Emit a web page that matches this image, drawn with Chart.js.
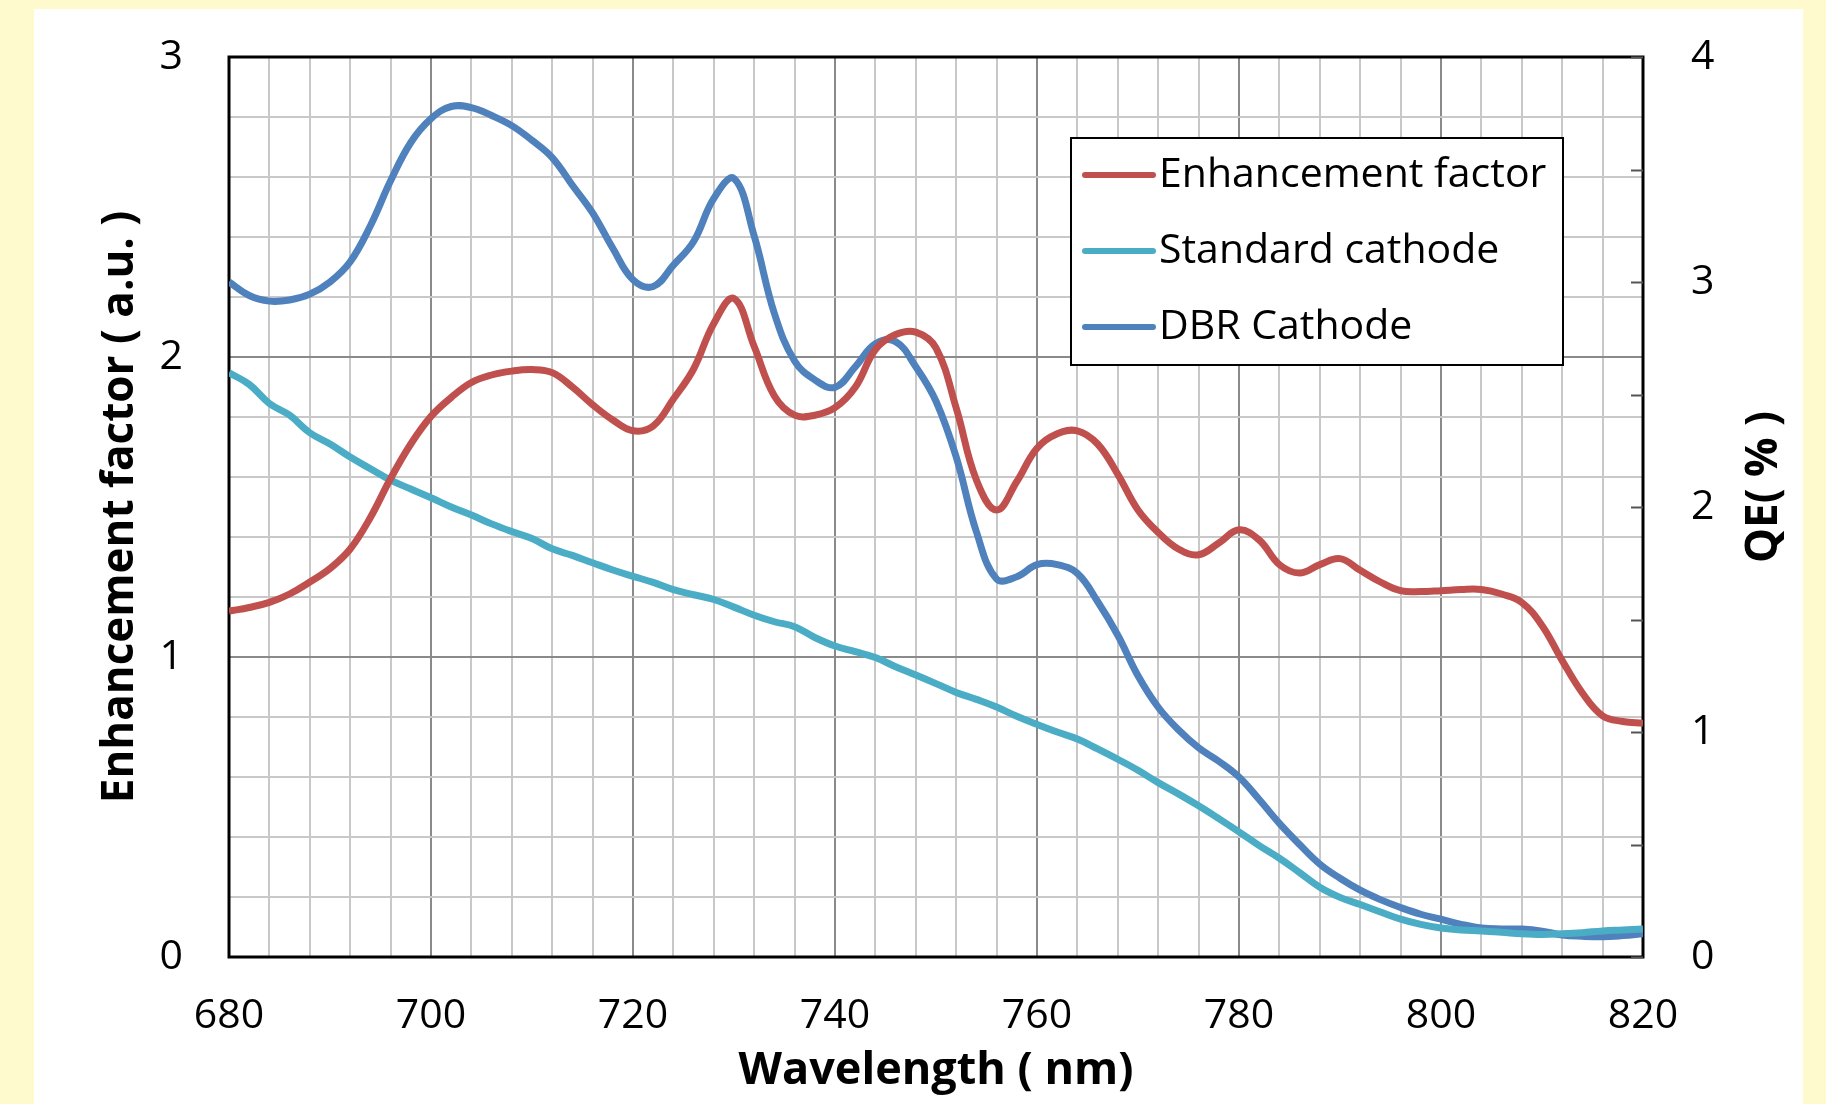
<!DOCTYPE html>
<html>
<head>
<meta charset="utf-8">
<script src="https://cdn.jsdelivr.net/npm/chart.js@4.4.1/dist/chart.umd.min.js"></script>
<style>
    html, body { margin: 0; padding: 0; background: #FFFACD; width: 1826px; height: 1104px; overflow: hidden; }
    #panel { position: absolute; left: 34px; top: 9px; width: 1769px; height: 1095px; background: #ffffff; }
</style>
</head>
<body>
<div id="panel"><canvas id="qeChart"></canvas></div>
<script>
// Wavelength samples (nm)
const wavelengths = [
    680, 682, 684, 686, 688, 690, 692, 694, 696, 698,
    700, 702, 704, 706, 708, 710, 712, 714, 716, 718,
    720, 722, 724, 726, 728, 730, 732, 734, 736, 738,
    740, 742, 744, 746, 748, 750, 752, 754, 756, 758,
    760, 762, 764, 766, 768, 770, 772, 774, 776, 778,
    780, 782, 784, 786, 788, 790, 792, 794, 796, 798,
    800, 802, 804, 806, 808, 810, 812, 814, 816, 818, 820
];

// Enhancement factor (a.u., left axis)
const enhancement = [
    1.153, 1.165, 1.182, 1.21, 1.25, 1.295, 1.36, 1.465, 1.595, 1.71,
    1.802, 1.865, 1.915, 1.94, 1.953, 1.958, 1.948, 1.90, 1.841, 1.79,
    1.754, 1.77, 1.86, 1.96, 2.112, 2.195, 2.035, 1.87, 1.806, 1.806,
    1.831, 1.899, 2.025, 2.075, 2.083, 2.03, 1.83, 1.59, 1.49, 1.585,
    1.696, 1.744, 1.754, 1.71, 1.609, 1.49, 1.415, 1.36, 1.341, 1.38,
    1.424, 1.39, 1.308, 1.28, 1.308, 1.328, 1.289, 1.25, 1.221, 1.218,
    1.221, 1.225, 1.225, 1.21, 1.182, 1.105, 0.988, 0.88, 0.804, 0.785, 0.779
];

// Standard cathode QE (%, right axis)
const standardQE = [
    2.597, 2.545, 2.46, 2.408, 2.33, 2.28, 2.222, 2.17, 2.119, 2.08,
    2.041, 2.00, 1.964, 1.925, 1.891, 1.86, 1.814, 1.785, 1.752, 1.72,
    1.692, 1.665, 1.633, 1.61, 1.589, 1.555, 1.519, 1.49, 1.468, 1.42,
    1.382, 1.357, 1.331, 1.29, 1.253, 1.215, 1.176, 1.145, 1.111, 1.07,
    1.034, 1.00, 0.969, 0.925, 0.879, 0.83, 0.775, 0.725, 0.672, 0.615,
    0.556, 0.495, 0.439, 0.375, 0.31, 0.265, 0.233, 0.20, 0.168, 0.145,
    0.129, 0.12, 0.116, 0.11, 0.103, 0.10, 0.103, 0.108, 0.116, 0.12, 0.124
];

// DBR cathode QE (%, right axis)
const dbrQE = [
    3.00, 2.94, 2.915, 2.92, 2.946, 3.00, 3.09, 3.25, 3.45, 3.62,
    3.726, 3.78, 3.775, 3.74, 3.695, 3.63, 3.553, 3.43, 3.307, 3.15,
    3.01, 2.98, 3.075, 3.18, 3.372, 3.46, 3.204, 2.86, 2.649, 2.565,
    2.532, 2.623, 2.726, 2.735, 2.623, 2.47, 2.222, 1.89, 1.68, 1.69,
    1.744, 1.744, 1.705, 1.58, 1.43, 1.25, 1.11, 1.01, 0.93, 0.87,
    0.80, 0.70, 0.594, 0.50, 0.413, 0.35, 0.297, 0.255, 0.22, 0.19,
    0.168, 0.145, 0.129, 0.125, 0.124, 0.115, 0.098, 0.092, 0.09, 0.095, 0.103
];

const seriesLabels = ["Enhancement factor", "Standard cathode", "DBR Cathode"];
const seriesColors = ["#C0504D", "#4BACC6", "#4F81BD"];

const FONT = "'Open Sans', 'Noto Sans', sans-serif";
const GRID_MINOR = "#c8c8c8";
const GRID_MAJOR = "#8a8a8a";

function toPoints(values) {
    return wavelengths.map((w, i) => ({ x: w, y: values[i] }));
}

// keep the plot box fixed: no extra room reserved for end labels
function fixWidth(w) {
    return s => { s.width = w; s.paddingTop = 0; s.paddingBottom = 0; };
}

// Frame, inward ticks on the right axis, boxed legend and right title
const framePlugin = {
    id: "frame",
    beforeDatasetsDraw(chart) {
        const { ctx, chartArea: a } = chart;
        ctx.save();
        ctx.strokeStyle = "#000";
        ctx.lineWidth = 3;
        ctx.strokeRect(a.left, a.top, a.right - a.left, a.bottom - a.top);

        const y1 = chart.scales.y1;
        ctx.lineWidth = 2;
        ctx.strokeStyle = "#555";
        y1.ticks.forEach(t => {
            const py = Math.round(y1.getPixelForValue(t.value)) + 0.5;
            ctx.beginPath();
            ctx.moveTo(a.right - 12, py);
            ctx.lineTo(a.right, py);
            ctx.stroke();
        });
        ctx.restore();
    },
    afterDatasetsDraw(chart) {
        const { ctx } = chart;
        const box = { x: 1037, y: 129, w: 492, h: 227 };
        ctx.save();
        ctx.fillStyle = "#fff";
        ctx.fillRect(box.x, box.y, box.w, box.h);
        ctx.strokeStyle = "#000";
        ctx.lineWidth = 2;
        ctx.strokeRect(box.x, box.y, box.w, box.h);

        ctx.font = `41px ${FONT}`;
        ctx.textBaseline = "middle";
        ctx.fillStyle = "#000";
        chart.data.datasets.forEach((ds, i) => {
            const cy = box.y + 37 + i * 76;
            ctx.strokeStyle = ds.borderColor;
            ctx.lineWidth = 6;
            ctx.lineCap = "round";
            ctx.beginPath();
            ctx.moveTo(box.x + 14, cy);
            ctx.lineTo(box.x + 82, cy);
            ctx.stroke();
            ctx.fillText(ds.label, box.x + 88, cy);
        });

        // right axis title reads bottom-to-top like the left one
        ctx.translate(1730, 478);
        ctx.rotate(-Math.PI / 2);
        ctx.font = `bold 44px ${FONT}`;
        ctx.textAlign = "center";
        ctx.fillText("QE( % )", 0, 0);
        ctx.restore();
    }
};

const ctx = document.getElementById("qeChart").getContext("2d");
new Chart(ctx, {
    type: "line",
    data: {
        datasets: [
            { label: seriesLabels[0], data: toPoints(enhancement), yAxisID: "y", borderColor: seriesColors[0] },
            { label: seriesLabels[1], data: toPoints(standardQE), yAxisID: "y1", borderColor: seriesColors[1] },
            { label: seriesLabels[2], data: toPoints(dbrQE), yAxisID: "y1", borderColor: seriesColors[2] }
        ]
    },
    options: {
        responsive: true,
        maintainAspectRatio: false,
        animation: false,
        layout: { padding: { top: 48, left: 0, right: 0, bottom: 0 } },
        datasets: {
            line: {
                borderWidth: 7,
                pointRadius: 0,
                fill: false,
                tension: 0.4,
                borderJoinStyle: "round"
            }
        },
        plugins: {
            legend: { display: false },
            tooltip: { enabled: false }
        },
        scales: {
            x: {
                type: "linear",
                min: 680,
                max: 820,
                afterFit: s => { s.height = 147; s.paddingLeft = 0; s.paddingRight = 0; },
                border: { display: false },
                grid: {
                    drawTicks: false,
                    lineWidth: 2,
                    color: c => (c.tick && c.tick.value % 20 === 0 ? GRID_MAJOR : GRID_MINOR)
                },
                ticks: {
                    stepSize: 4,
                    autoSkip: false,
                    maxRotation: 0,
                    padding: 35,
                    color: "#000",
                    font: { family: FONT, size: 41 },
                    callback: v => (v % 20 === 0 ? v : "")
                },
                title: {
                    display: true,
                    text: "Wavelength ( nm)",
                    color: "#000",
                    font: { family: FONT, size: 45, weight: "bold" },
                    padding: { bottom: 6 }
                }
            },
            y: {
                position: "left",
                min: 0,
                max: 3,
                afterFit: fixWidth(195),
                border: { display: false },
                grid: {
                    drawTicks: false,
                    lineWidth: 2,
                    color: c => (c.tick && Math.abs(c.tick.value - Math.round(c.tick.value)) < 1e-6 ? GRID_MAJOR : GRID_MINOR)
                },
                ticks: {
                    stepSize: 0.2,
                    autoSkip: false,
                    padding: 46,
                    color: "#000",
                    font: { family: FONT, size: 41 },
                    callback: v => (Math.abs(v - Math.round(v)) < 1e-6 ? Math.round(v) : "")
                },
                title: {
                    display: true,
                    text: "Enhancement factor ( a.u. )",
                    color: "#000",
                    font: { family: FONT, size: 44, weight: "bold" },
                    padding: { top: 60 }
                }
            },
            y1: {
                position: "right",
                min: 0,
                max: 4,
                afterFit: fixWidth(160),
                border: { display: false },
                grid: { drawOnChartArea: false, drawTicks: false },
                ticks: {
                    stepSize: 0.5,
                    autoSkip: false,
                    padding: 48,
                    color: "#000",
                    font: { family: FONT, size: 41 },
                    callback: v => (Number.isInteger(v) ? v : "")
                },
                title: { display: false }
            }
        }
    },
    plugins: [framePlugin]
});
</script>
</body>
</html>
